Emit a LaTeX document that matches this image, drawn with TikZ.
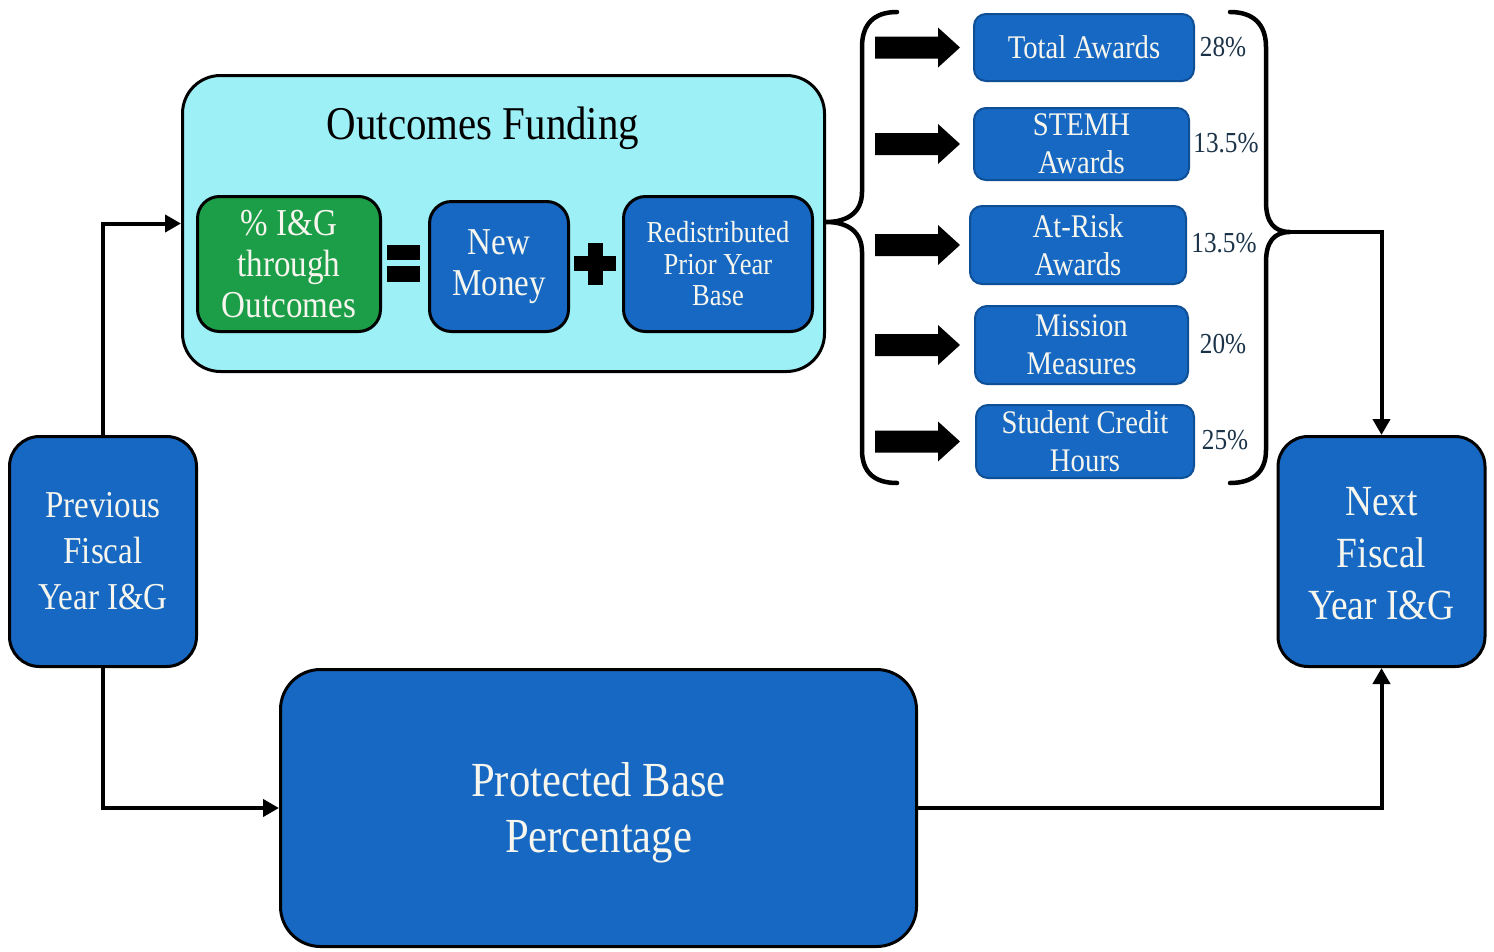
\documentclass[tikz,border=0pt]{standalone}
\usepackage{fontspec}
\setmainfont{Liberation Serif}[FakeStretch=0.87]
\usetikzlibrary{arrows.meta,calc}
\definecolor{boxblue}{HTML}{1668C2}
\definecolor{awardedge}{HTML}{0F4F96}
\definecolor{cyanfill}{HTML}{9DF0F6}
\definecolor{greenfill}{HTML}{1C9E48}
\definecolor{txtwhite}{HTML}{F6F6EE}
\definecolor{pcttext}{HTML}{1B3349}
\begin{document}
\begin{tikzpicture}[x=1pt,y=-1pt,
  box/.style={draw=black, line width=3pt, fill=boxblue, text=txtwhite, align=center, inner sep=0pt, rounded corners=30pt},
  award/.style={draw=awardedge, line width=2pt, fill=boxblue, text=txtwhite, align=center, inner sep=0pt, rounded corners=12pt, font=\fontsize{33}{38}\selectfont},
  pct/.style={text=pcttext, inner sep=0pt, font=\fontsize{29}{34}\selectfont},
  conn/.style={line width=4pt, -{Triangle[length=16pt,width=17pt]}},
  brace/.style={line width=4.5pt, line cap=round},
  blockarrow/.style={fill=black}
]
\useasboundingbox (0,0) rectangle (1494,951);
\fill[white] (0,0) rectangle (1494,951);

% Outcomes funding group
\node[box, fill=cyanfill, minimum width=642pt, minimum height=296pt, rounded corners=38pt] (outcomes) at (503.5,223.5) {};
\node[font=\fontsize{47}{50}\selectfont, text=black, inner sep=0pt] (title) at (483,128) {Outcomes Funding};
\node[box, fill=greenfill, minimum width=183pt, minimum height=135pt, rounded corners=22pt, font=\fontsize{38}{41}\selectfont] (pig) at (289,264) {\% I\&G\\through\\Outcomes};
\node[box, minimum width=139pt, minimum height=130pt, rounded corners=22pt, font=\fontsize{38}{41}\selectfont] (newm) at (499,266.5) {New\\Money};
\node[box, minimum width=189pt, minimum height=135pt, rounded corners=22pt, font=\fontsize{30.5}{31.5}\selectfont] (redist) at (718,264) {Redistributed\\Prior Year\\Base};
% equals and plus signs
\fill (387,245) rectangle (420,260);
\fill (387,266) rectangle (420,282);
\fill (574,256) rectangle (616,271);
\fill (588,243) rectangle (603,285);

% Main boxes
\node[box, minimum width=187pt, minimum height=230pt, font=\fontsize{38}{46}\selectfont] (prev) at (103,551.5) {Previous\\Fiscal\\Year I\&G};
\node[box, minimum width=207pt, minimum height=230pt] (next) at (1381.5,551.5) {};
\node[font=\fontsize{43}{52}\selectfont, text=txtwhite, align=center, inner sep=0pt] (nexttxt) at (1381.5,553.5) {Next\\Fiscal\\Year I\&G};
\node[box, minimum width=636pt, minimum height=277pt, rounded corners=40pt] (prot) at (598.5,808) {};
\node[font=\fontsize{49}{56}\selectfont, text=txtwhite, align=center, inner sep=0pt] (prottxt) at (598.5,813) {Protected Base\\Percentage};

% Award boxes
\node[award, minimum width=220pt, minimum height=67pt] (a1) at (1084,47.5) {Total Awards};
\node[award, minimum width=215pt, minimum height=72pt] (a2) at (1081.5,144) {STEMH\\Awards};
\node[award, minimum width=216pt, minimum height=78pt] (a3) at (1078,245) {At-Risk\\Awards};
\node[award, minimum width=213pt, minimum height=78pt] (a4) at (1081.5,345) {Mission\\Measures};
\node[award, minimum width=218pt, minimum height=73pt] (a5) at (1085,441.5) {Student Credit\\Hours};

\node[pct] (p1) at (1223,47) {28\%};
\node[pct] (p2) at (1226,143) {13.5\%};
\node[pct] (p3) at (1224,243) {13.5\%};
\node[pct] (p4) at (1223,344) {20\%};
\node[pct] (p5) at (1225,440) {25\%};

% Block arrows
\coordinate (ax) at (875,0);
\foreach \n in {a1,a2,a3,a4,a5}{
  \fill[blockarrow] ($(ax |- \n.west)+(0,-11)$) -- ++(63,0) -- ++(0,-9) -- ++(22,20) -- ++(-22,20) -- ++(0,-9) -- ++(-63,0) -- cycle;
}

% Braces
\draw[brace] (897,12) .. controls (874,12) and (862,24) .. (862,47) -- (862,192)
  .. controls (862,212) and (848,222) .. (826,222)
  .. controls (848,222) and (862,232) .. (862,252) -- (862,450)
  .. controls (862,472) and (874,483) .. (897,483);
\draw[brace] (1230,12) .. controls (1253,12) and (1266,24) .. (1266,47) -- (1266,202)
  .. controls (1266,222) and (1274,232) .. (1290,232)
  .. controls (1274,232) and (1266,242) .. (1266,262) -- (1266,450)
  .. controls (1266,472) and (1253,483) .. (1230,483);
\coordinate (rb) at (1290,232);

% Connectors
\draw[conn] (prev.north) |- (outcomes.west);
\draw[conn] (prev.south) |- (prot.west);
\draw[conn] (prot.east) -| (next.south);
\draw[conn] (rb) -| (next.north);
\end{tikzpicture}
\end{document}
